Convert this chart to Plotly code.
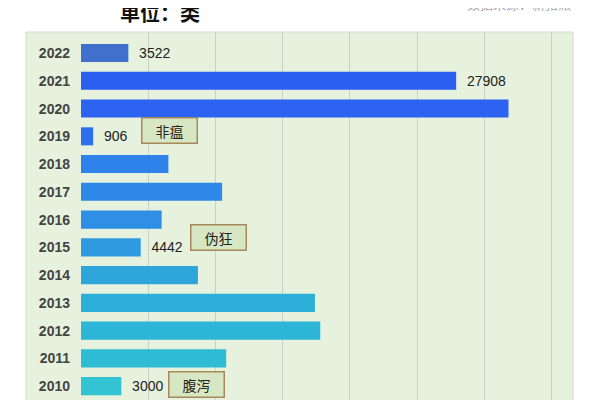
import plotly.graph_objects as go

years = [2022, 2021, 2020, 2019, 2018, 2017, 2016, 2015, 2014, 2013, 2012, 2011, 2010]
values = [3522, 27908, 31800, 906, 6500, 10500, 6000, 4442, 8700, 17400, 17800, 10800, 3000]
value_labels = ["3522", "27908", "", "906", "", "", "", "4442", "", "", "", "", "3000"]
bar_colors = ["#4170cc", "#2b5ff2", "#2c63f0", "#2d6fee", "#2e82ea", "#2e88e8", "#2f8fe4",
              "#2f9ae0", "#2ea6dc", "#2cb0d9", "#2db6d7", "#2ebcd5", "#33c3d2"]
callout_text = ["非瘟", "伪狂", "腹泻"]
callout_x = [6600, 10200, 8600]
callout_y = [2019.22, 2015.36, 2010.07]
grid_ticks = [5000, 10000, 15000, 20000, 25000, 30000, 35000]

OFF = 8  # page body margin
W, H = 600 - OFF, 400 - OFF
L, T = 81 - OFF, 32 - OFF
R, B = W - (573 - OFF), 0
PW, PH = W - L - R, H - T - B

fig = go.Figure()
fig.add_trace(go.Bar(
    x=values, y=years, orientation="h",
    marker=dict(color=bar_colors, line=dict(width=0)),
    width=0.65,
    text=[("\u00a0\u00a0" + s) if s else "" for s in value_labels],
    textposition="outside", cliponaxis=False,
    textfont=dict(family="Liberation Sans, Arial", size=14, color="#222222"),
    hoverinfo="x+y",
))

annotations = []
for t, cx, cy in zip(callout_text, callout_x, callout_y):
    annotations.append(dict(
        x=cx, y=cy, xref="x", yref="y", text=t, showarrow=False,
        width=50, height=20,
        font=dict(family="Noto Sans CJK SC", size=14, color="#222222"),
        bgcolor="#d7e7c3", bordercolor="#a8875a", borderwidth=1.5, borderpad=2,
    ))
annotations.append(dict(
    x=(118 - 81) / PW, y=1 + (32 - 29) / PH, xref="paper", yref="paper",
    text="<b>单位：类</b>", showarrow=False, xanchor="left", yanchor="bottom",
    font=dict(family="Noto Sans CJK SC", size=20, color="#111111"),
))
annotations.append(dict(
    x=1.0, y=1 + (32 - 15) / PH, xref="paper", yref="paper", text="数据来源：新猪派",
    showarrow=False, xanchor="right", yanchor="bottom",
    font=dict(family="Noto Sans CJK SC", size=13, color="#a8a8a8"),
))

fig.update_layout(
    template="none",
    width=W, height=H,
    margin=dict(l=L, r=R, t=T, b=B, pad=0, autoexpand=False),
    paper_bgcolor="white",
    plot_bgcolor="rgba(0,0,0,0)",
    showlegend=False,
    annotations=annotations,
    shapes=[dict(type="rect", xref="paper", yref="paper", x0=(26 - 81) / PW, x1=1.0, y0=-0.01, y1=1,
                 fillcolor="#e6f2de", line=dict(color="#d3dbd0", width=1), layer="below")],
    xaxis=dict(range=[0, 36600], tickvals=grid_ticks, showticklabels=False,
               showgrid=True, gridcolor="#c9d1c5", gridwidth=1, zeroline=False,
               showline=False, fixedrange=True, automargin=False),
    yaxis=dict(range=[2009.5, 2022.76], tickvals=years, ticktext=[str(y) for y in years],
               showgrid=False, zeroline=False, showline=False, ticks="",
               tickfont=dict(family="Liberation Sans, Arial", size=14, color="#444444", weight="bold"),
               ticklabelstandoff=10, fixedrange=True, automargin=False),
)

fig.write_html("out.html")
